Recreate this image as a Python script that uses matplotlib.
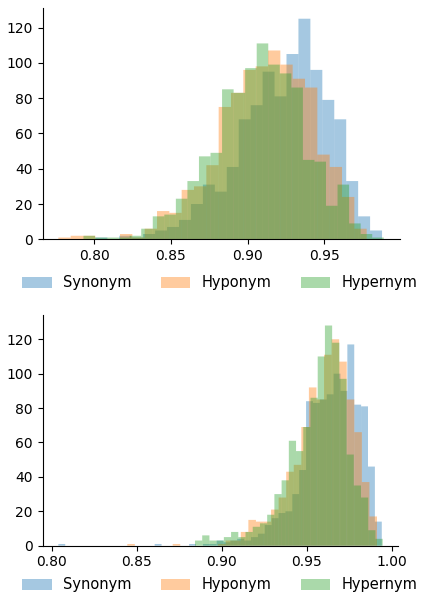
import numpy as np
import matplotlib
matplotlib.use('Agg')
import matplotlib.pyplot as plt

# --------------------- data ---------------------
labels = ['Synonym', 'Hyponym', 'Hypernym']
colors = ['#1f77b4', '#ff7f0e', '#2ca02c']

# top panel: first bin edge, bin width, counts per bin
top_syn_start, top_syn_width = 0.8007, 0.00779
top_syn = [1, 0, 2, 1, 3, 5, 7, 11, 20, 31, 27, 41, 68, 76, 95, 81,
           105, 125, 96, 79, 68, 33, 13, 5]
top_hypo_start, top_hypo_width = 0.77652, 0.008045
top_hypo = [1, 2, 2, 0, 0, 3, 1, 6, 16, 15, 28, 30, 42, 75, 83, 96,
            98, 107, 99, 91, 86, 48, 41, 24, 6]
top_hyper_start, top_hyper_width = 0.79292, 0.007533
top_hyper = [2, 1, 1, 1, 2, 6, 13, 14, 23, 33, 47, 49, 85, 83, 97, 111,
             99, 94, 86, 45, 44, 19, 31, 9, 3, 1]

# bottom panel
bot_syn_start, bot_syn_width = 0.8039, 0.004048
bot_syn = [1, 0, 0, 0, 0, 0, 0, 0, 0, 0, 0, 0, 0, 0, 1, 0,
           0, 0, 0, 1, 0, 1, 1, 3, 2, 3, 4, 3, 5, 7, 12, 16,
           19, 20, 30, 44, 84, 83, 85, 88, 100, 90, 117, 82, 81, 46, 14]
bot_hypo_start, bot_hypo_width = 0.84447, 0.004451
bot_hypo = [1, 0, 0, 0, 0, 0, 1, 0, 0, 0, 0, 0, 1, 3, 3, 8,
            15, 14, 14, 21, 28, 43, 47, 69, 92, 85, 111, 120, 107, 85, 66, 37, 17]
bot_hyper_start, bot_hyper_width = 0.88429, 0.004246
bot_hyper = [3, 6, 3, 3, 5, 8, 5, 8, 11, 13, 18, 30, 38, 61, 55, 69,
             86, 110, 128, 118, 97, 53, 35, 28, 9, 4]

f_size = 10


def draw(ax, series):
    for (start, width, counts), lab, col in zip(series, labels, colors):
        edges = start + width * np.arange(len(counts) + 1)
        _, _, bars = ax.hist(edges[:-1] + width / 2, bins=edges, weights=counts,
                             color=col, alpha=0.4, label=lab)
        for b in bars:
            b.set_snap(False)   # keep the faint seams between bars
    ax.spines['top'].set_visible(False)
    ax.spines['right'].set_visible(False)
    ax.tick_params(labelsize=f_size)


fig = plt.figure(figsize=(4.23, 5.99), dpi=100)

ax1 = fig.add_axes([42.5 / 423, 1 - 239.3 / 599, 357 / 423, 231.7 / 599])
draw(ax1, [(top_syn_start, top_syn_width, top_syn),
           (top_hypo_start, top_hypo_width, top_hypo),
           (top_hyper_start, top_hyper_width, top_hyper)])
ax1.set_xlim(0.7662, 0.99905)
ax1.set_ylim(0, 131.3)
ax1.legend(loc='center', bbox_to_anchor=(0.52, 1 - 283 / 599),
           bbox_transform=fig.transFigure, ncol=3, frameon=False, fontsize=10.5)

ax2 = fig.add_axes([42.5 / 423, 1 - 545.7 / 599, 355.8 / 423, 231.2 / 599])
draw(ax2, [(bot_syn_start, bot_syn_width, bot_syn),
           (bot_hypo_start, bot_hypo_width, bot_hypo),
           (bot_hyper_start, bot_hyper_width, bot_hyper)])
ax2.set_xlim(0.79459, 1.00388)
ax2.set_ylim(0, 134.4)
ax2.legend(loc='center', bbox_to_anchor=(0.52, 1 - 585 / 599),
           bbox_transform=fig.transFigure, ncol=3, frameon=False, fontsize=10.5)

fig.savefig('out.png', dpi=100)
